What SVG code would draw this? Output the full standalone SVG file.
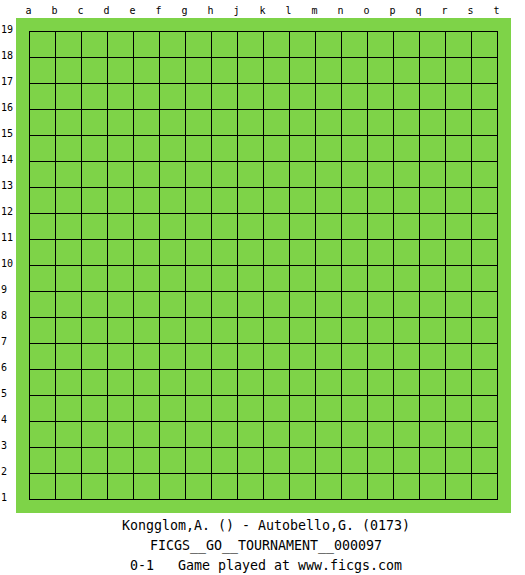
<svg xmlns="http://www.w3.org/2000/svg" width="525" height="575" viewBox="0 0 525 575">
<style>
.c{font-family:"DejaVu Sans Mono","Liberation Mono",monospace;font-size:10px;fill:#000}
.cx{text-anchor:middle}
.t{font-family:"DejaVu Sans Mono","Liberation Mono",monospace;font-size:13.3px;fill:#000;text-anchor:middle}
</style>
<rect width="525" height="575" fill="#fff"/>
<g id="board">
<rect x="16" y="18" width="495" height="495" fill="#7ed348"/>
<path fill="none" stroke="#000" stroke-width="1" stroke-linecap="square" d="M29.5 31.5V499.5M55.5 31.5V499.5M81.5 31.5V499.5M107.5 31.5V499.5M133.5 31.5V499.5M159.5 31.5V499.5M185.5 31.5V499.5M211.5 31.5V499.5M237.5 31.5V499.5M263.5 31.5V499.5M289.5 31.5V499.5M315.5 31.5V499.5M341.5 31.5V499.5M367.5 31.5V499.5M393.5 31.5V499.5M419.5 31.5V499.5M445.5 31.5V499.5M471.5 31.5V499.5M497.5 31.5V499.5M29.5 31.5H497.5M29.5 57.5H497.5M29.5 83.5H497.5M29.5 109.5H497.5M29.5 135.5H497.5M29.5 161.5H497.5M29.5 187.5H497.5M29.5 213.5H497.5M29.5 239.5H497.5M29.5 265.5H497.5M29.5 291.5H497.5M29.5 317.5H497.5M29.5 343.5H497.5M29.5 369.5H497.5M29.5 395.5H497.5M29.5 421.5H497.5M29.5 447.5H497.5M29.5 473.5H497.5M29.5 499.5H497.5"/>
</g>
<g id="cols" class="c cx">
<text x="28.5" y="14">a</text><text x="54.5" y="14">b</text><text x="80.5" y="14">c</text><text x="106.5" y="14">d</text><text x="132.5" y="14">e</text><text x="158.5" y="14">f</text><text x="184.5" y="14">g</text><text x="210.5" y="14">h</text><text x="236.5" y="14">j</text><text x="262.5" y="14">k</text><text x="288.5" y="14">l</text><text x="314.5" y="14">m</text><text x="340.5" y="14">n</text><text x="366.5" y="14">o</text><text x="392.5" y="14">p</text><text x="418.5" y="14">q</text><text x="444.5" y="14">r</text><text x="470.5" y="14">s</text><text x="496.5" y="14">t</text>
</g>
<g id="rows" class="c">
<text x="1" y="32.5">19</text><text x="1" y="58.5">18</text><text x="1" y="84.5">17</text><text x="1" y="110.5">16</text><text x="1" y="136.5">15</text><text x="1" y="162.5">14</text><text x="1" y="188.5">13</text><text x="1" y="214.5">12</text><text x="1" y="240.5">11</text><text x="1" y="266.5">10</text><text x="1" y="292.5">9</text><text x="1" y="318.5">8</text><text x="1" y="344.5">7</text><text x="1" y="370.5">6</text><text x="1" y="396.5">5</text><text x="1" y="422.5">4</text><text x="1" y="448.5">3</text><text x="1" y="474.5">2</text><text x="1" y="500.5">1</text>
</g>
<g id="caption" class="t">
<text x="266" y="529.5">Kongglom,A. () - Autobello,G. (0173)</text>
<text x="266" y="549.5">FICGS__GO__TOURNAMENT__000097</text>
<text x="266" y="569.5" xml:space="preserve">0-1   Game played at www.ficgs.com</text>
</g>
</svg>
